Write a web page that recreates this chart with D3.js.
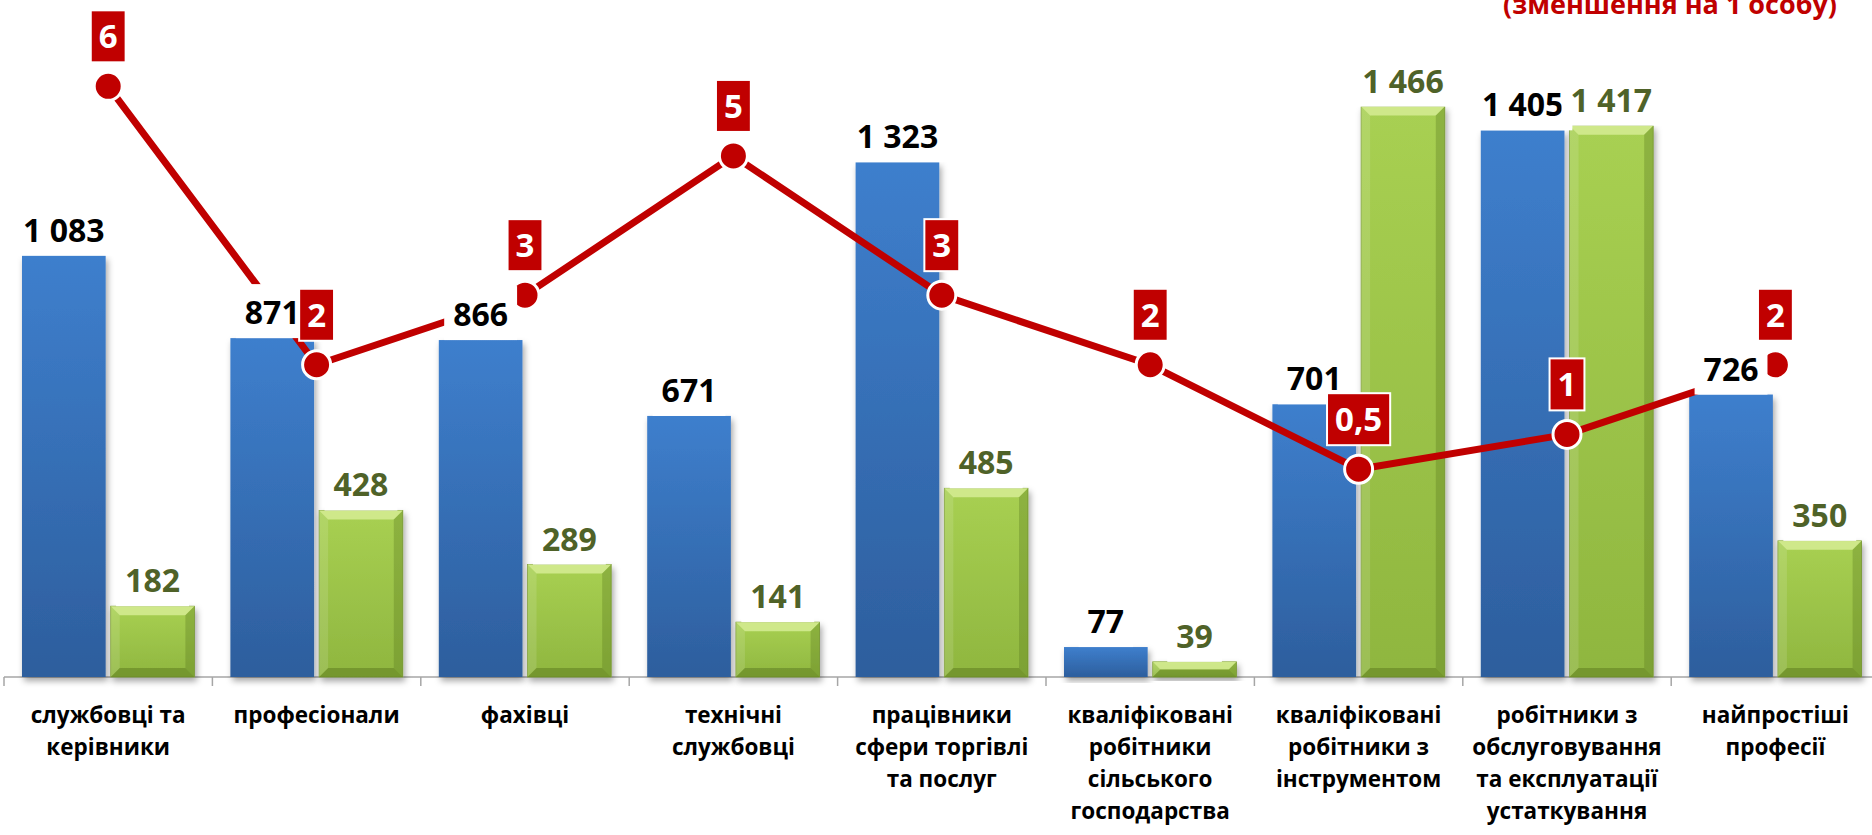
<!DOCTYPE html>
<html>
<head>
<meta charset="utf-8">
<script src="https://cdn.jsdelivr.net/npm/d3@7"></script>
<style>
  body { margin: 0; background: #fff; }
  svg { display: block; font-family: "Open Sans", "Noto Sans", sans-serif; }
</style>
</head>
<body>
<svg id="chart" width="1872" height="835"></svg>
<script>
// categories (label lines)
const categories = [
    ["службовці та", "керівники"],
    ["професіонали"],
    ["фахівці"],
    ["технічні", "службовці"],
    ["працівники", "сфери торгівлі", "та послуг"],
    ["кваліфіковані", "робітники", "сільського", "господарства"],
    ["кваліфіковані", "робітники з", "інструментом"],
    ["робітники з", "обслуговування", "та експлуатації", "устаткування"],
    ["найпростіші", "професії"]
];
const blueValues = [1083, 871, 866, 671, 1323, 77, 701, 1405, 726];
const greenValues = [182, 428, 289, 141, 485, 39, 1466, 1417, 350];
const lineValues = [6, 2, 3, 5, 3, 2, 0.5, 1, 2];
const lineLabels = ["6", "2", "3", "5", "3", "2", "0,5", "1", "2"];
const titleText = "(зменшення на 1 особу)";

const fmt = v => d3.format(",")(v).replace(/,/g, " ");

const svg = d3.select("#chart");
const baseY = 677;

const x = d3.scaleBand()
    .domain(d3.range(categories.length))
    .range([4, 4 + 208.4 * categories.length])
    .padding(0);

const x1 = d3.scaleBand()
    .domain(["blue", "green"])
    .range([18, 190.4])
    .paddingInner(0.057)
    .paddingOuter(0);

const y = d3.scaleLinear().domain([0, 1740]).range([baseY, 0]);
const yLine = d3.scaleLinear().domain([0, 7.24]).range([504, 0]);

// defs
const defs = svg.append("defs");
const gBlue = defs.append("linearGradient").attr("id", "gBlue")
    .attr("x1", 0).attr("y1", 0).attr("x2", 0).attr("y2", 1);
gBlue.append("stop").attr("offset", "0%").attr("stop-color", "#3e7fcd");
gBlue.append("stop").attr("offset", "100%").attr("stop-color", "#2d5e9d");

const gGreen = defs.append("linearGradient").attr("id", "gGreen")
    .attr("x1", 0).attr("y1", 0).attr("x2", 0).attr("y2", 1);
gGreen.append("stop").attr("offset", "0%").attr("stop-color", "#a8d052");
gGreen.append("stop").attr("offset", "100%").attr("stop-color", "#8fb63f");

const shadow = defs.append("filter").attr("id", "shadow")
    .attr("x", "-20%").attr("y", "-20%").attr("width", "140%").attr("height", "140%");
shadow.append("feDropShadow").attr("dx", 2).attr("dy", 4)
    .attr("stdDeviation", 3).attr("flood-color", "#000").attr("flood-opacity", 0.35);

// axis
const axisG = svg.append("g");
axisG.append("line")
    .attr("x1", x.range()[0]).attr("x2", 1872)
    .attr("y1", baseY).attr("y2", baseY)
    .attr("stroke", "#a6a6a6").attr("stroke-width", 1.5);
axisG.selectAll("line.tick")
    .data(d3.range(categories.length))
    .join("line")
    .attr("class", "tick")
    .attr("x1", i => x(i)).attr("x2", i => x(i))
    .attr("y1", baseY).attr("y2", baseY + 9)
    .attr("stroke", "#a6a6a6").attr("stroke-width", 1.5);

// bars
const bars = svg.append("g");
bars.selectAll("rect.blue")
    .data(blueValues)
    .join("rect")
    .attr("class", "blue")
    .attr("x", (d, i) => x(i) + x1("blue"))
    .attr("y", d => y(d))
    .attr("width", x1.bandwidth())
    .attr("height", d => baseY - y(d))
    .attr("fill", "url(#gBlue)")
    .attr("filter", "url(#shadow)");

const greenG = bars.selectAll("g.green")
    .data(greenValues)
    .join("g")
    .attr("class", "green")
    .attr("filter", "url(#shadow)");

greenG.each(function (d, i) {
    const g = d3.select(this);
    const bx = x(i) + x1("green");
    const by = y(d);
    const w = x1.bandwidth();
    const h = baseY - by;
    const b = Math.min(9, h / 2);
    g.append("rect").attr("x", bx).attr("y", by).attr("width", w).attr("height", h)
        .attr("fill", "url(#gGreen)").attr("stroke", "#7e9d37").attr("stroke-width", 0.8);
    const poly = (pts, fill, op) => g.append("polygon")
        .attr("points", pts.map(p => p.join(",")).join(" "))
        .attr("fill", fill).attr("fill-opacity", op);
    poly([[bx, by], [bx + w, by], [bx + w - b, by + b], [bx + b, by + b]], "#d6ec94", 0.85);
    poly([[bx, by], [bx + b, by + b], [bx + b, by + h - b], [bx, by + h]], "#ffffff", 0.12);
    poly([[bx + w, by], [bx + w, by + h], [bx + w - b, by + h - b], [bx + w - b, by + b]], "#5d7b1f", 0.35);
    poly([[bx, by + h], [bx + b, by + h - b], [bx + w - b, by + h - b], [bx + w, by + h]], "#55711a", 0.45);
});

// line
const cx = i => x(i) + x.bandwidth() / 2;
const line = d3.line().x((d, i) => cx(i)).y(d => yLine(d));
svg.append("path")
    .datum(lineValues)
    .attr("d", line)
    .attr("fill", "none")
    .attr("stroke", "#c00000")
    .attr("stroke-width", 7)
    .attr("stroke-linejoin", "round");

svg.append("g").selectAll("circle")
    .data(lineValues)
    .join("circle")
    .attr("cx", (d, i) => cx(i))
    .attr("cy", d => yLine(d))
    .attr("r", 14)
    .attr("fill", "#c00000")
    .attr("stroke", "#fff")
    .attr("stroke-width", 3);

// bar value labels (white background)
function barLabel(values, key, color) {
    const g = svg.append("g");
    values.forEach((v, i) => {
        const tx = x(i) + x1(key) + x1.bandwidth() / 2;
        const ty = y(v) - 14;
        const lg = g.append("g");
        const bg = lg.append("rect").attr("fill", "#fff");
        const t = lg.append("text")
            .attr("x", tx).attr("y", ty)
            .attr("text-anchor", "middle")
            .attr("font-size", 32)
            .attr("font-weight", 700)
            .attr("fill", color)
            .text(fmt(v));
        const w = t.node().getComputedTextLength();
        bg.attr("x", tx - w / 2 - 9).attr("y", ty - 40)
            .attr("width", w + 18).attr("height", 54);
    });
}
barLabel(blueValues, "blue", "#000000");
barLabel(greenValues, "green", "#4f6228");

// line value labels
const lblG = svg.append("g");
lineValues.forEach((v, i) => {
    const px = cx(i);
    const py = yLine(v);
    const lg = lblG.append("g");
    const box = lg.append("rect")
        .attr("fill", "#c00000").attr("stroke", "#fff").attr("stroke-width", 2);
    const t = lg.append("text")
        .attr("x", px).attr("y", py - 38)
        .attr("text-anchor", "middle")
        .attr("font-size", 33)
        .attr("font-weight", 700)
        .attr("fill", "#fff")
        .text(lineLabels[i]);
    const w = Math.max(t.node().getComputedTextLength() + 16, 33);
    box.attr("x", px - w / 2).attr("y", py - 76).attr("width", w).attr("height", 52);
});

// category labels
const catG = svg.append("g");
categories.forEach((lines, i) => {
    const t = catG.append("text")
        .attr("x", cx(i)).attr("y", 723)
        .attr("text-anchor", "middle")
        .attr("font-size", 22.5)
        .attr("font-weight", 700)
        .attr("fill", "#000");
    lines.forEach((s, j) => {
        t.append("tspan").attr("x", cx(i)).attr("dy", j === 0 ? 0 : 32).text(s);
    });
});

// title (cut off at top, as in the original)
svg.append("text")
    .attr("x", 1837).attr("y", 14)
    .attr("text-anchor", "end")
    .attr("font-size", 27)
    .attr("font-weight", 700)
    .attr("fill", "#c00000")
    .text(titleText);
</script>
</body>
</html>
